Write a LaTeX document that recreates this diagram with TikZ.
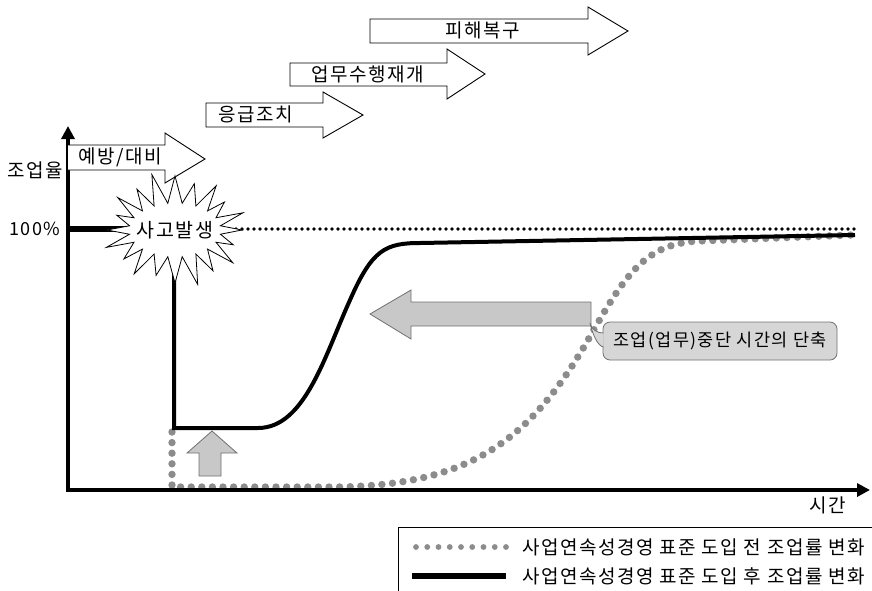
\documentclass[tikz,border=0pt]{standalone}
\usepackage{fontspec}
\setmainfont[LetterSpace=8]{Noto Sans CJK KR}
\usetikzlibrary{arrows.meta,calc}
\definecolor{dotgray}{HTML}{8C8C8C}
\definecolor{fillgray}{HTML}{C8C8C8}
\definecolor{edgegray}{HTML}{707070}
\tikzset{
  phasebox/.style={draw=black, line width=0.9pt, fill=white},
  lbl/.style={font=\fontsize{19}{22}\selectfont, inner sep=0pt},
  graydots/.style={draw=dotgray, line width=7.4pt, line cap=round, dash pattern=on 0pt off 10.6pt},
  blackdots/.style={draw=black, line width=3.8pt, line cap=round, dash pattern=on 0pt off 6pt},
  thick curve/.style={draw=black, line width=4pt},
  grayarrow/.style={draw=edgegray, line width=0.8pt, fill=fillgray},
  axisline/.style={line width=4pt, -{Triangle[length=13pt,width=13pt]}}
}
\begin{document}
\begin{tikzpicture}[x=1pt,y=-1pt]
\useasboundingbox (0,0) rectangle (872,590);
\clip (0,0) rectangle (872,590);

% dotted 100% reference line
\coordinate (dl0) at (236,229);
\coordinate (dl1) at (855,229);
\draw[blackdots] (dl0) -- (dl1);

% gray dotted curve (before)
\coordinate (g0) at (172,432);
\coordinate (g1) at (172,487);
\coordinate (g2) at (330,487);
\coordinate (g3) at (588,340);
\coordinate (g4) at (700,241);
\coordinate (g5) at (852,235);
\draw[graydots] (g0) -- (g1) -- (g2)
  .. controls (470,487) and (530,440) .. (g3)
  .. controls (625,275) and (645,243) .. (g4)
  -- (g5);

% black solid curve (after)
\coordinate (b0) at (174,240);
\coordinate (b1) at (174,428);
\coordinate (b2) at (258,428);
\coordinate (b3) at (350,300);
\coordinate (b4) at (420,243);
\coordinate (b5) at (855,235);
\draw[thick curve] (b0) -- (b1) -- (b2)
  .. controls (305,428) and (325,355) .. (b3)
  .. controls (372,250) and (385,243) .. (b4)
  -- (b5);

% 100% stub line
\coordinate (s0) at (68,229);
\coordinate (s1) at (125,229);
\draw[line width=5.5pt] (s0) -- (s1);

% axes
\coordinate (o) at (68,490);
\coordinate (ytop) at (68,126);
\coordinate (xend) at (870,490);
\draw[axisline] (68,492) -- (ytop);
\draw[axisline] (66,490) -- (xend);

% phase arrows
\draw[phasebox] (68,145) -- (165,145) -- (165,133) -- (205,159) -- (165,183) -- (165,170) -- (68,170);
\node[lbl] (p1) at (120,157) {예방/대비};
\draw[phasebox] (206,103) -- (323,103) -- (323,92) -- (363,115) -- (323,138) -- (323,127) -- (206,127) -- cycle;
\node[lbl] (p2) at (256,114) {응급조치};
\draw[phasebox] (290,63) -- (447,63) -- (447,49) -- (485,74) -- (447,99) -- (447,86) -- (290,86) -- cycle;
\node[lbl] (p3) at (368,74) {업무수행재개};
\draw[phasebox] (370,19) -- (588,19) -- (588,7) -- (628,31) -- (588,55) -- (588,43) -- (370,43) -- cycle;
\node[lbl] (p4) at (483,30) {피해복구};

% starburst
\coordinate (sc) at (175,230);
\draw[line width=0.8pt, fill=white] ($(sc)+(67,0)$)
  \foreach \a/\f in {18/0.9,36/1.05,54/0.95,72/1.08,90/1.0,108/0.9,126/1.02,144/0.93,162/1.06,180/1.0,198/0.9,216/1.04,234/0.95,252/1.1,270/1.02,288/0.92,306/1.03,324/0.9,342/1.05} {
    -- ($(sc)+({46*cos(\a-9)},{27*sin(\a-9)})$) -- ($(sc)+({\f*68*cos(\a)},{\f*53*sin(\a)})$)
  } -- ($(sc)+({46*cos(351)},{27*sin(351)})$) -- cycle;
\node[lbl, font=\fontsize{19.5}{22}\selectfont] (acc) at (sc) {사고발생};

% axis labels
\node[lbl] (ylab) at (35,170) {조업율};
\node[lbl, font=\fontsize{18}{20}\selectfont] (pct) at (35,229) {100\%};
\node[lbl] (xlab) at (828,505) {시간};

% gray up arrow
\draw[grayarrow] (199,476) -- (199,453) -- (187,453) -- (212,431) -- (237,453) -- (221,453) -- (221,476) -- cycle;

% big gray left arrow
\draw[grayarrow] (591,302) -- (411,302) -- (411,290) -- (370,314) -- (411,339) -- (411,326) -- (591,326) -- cycle;

% callout
\node[lbl, font=\fontsize{17.5}{20}\selectfont, draw=edgegray, fill=fillgray!75, line width=0.8pt, rounded corners=7pt,
      minimum width=234pt, minimum height=38pt] (call) at (720,341) {조업(업무)중단 시간의 단축};
\draw[draw=edgegray, fill=fillgray!75, line width=0.8pt]
  (603.5,333) .. controls (597,333) and (592,330) .. (590,323)
  .. controls (593,336) and (598,346) .. (603.5,347);

% legend
\draw[line width=0.8pt] (398,600) -- (398,527) -- (880,527);
\coordinate (lg0) at (416,547);
\coordinate (lg1) at (506,547);
\draw[draw=dotgray, line width=5.8pt, line cap=round, dash pattern=on 0pt off 11.25pt] (lg0) -- (lg1);
\node[lbl, anchor=west] (lt1) at (522,547) {사업연속성경영 표준 도입 전 조업률 변화};
\coordinate (lk0) at (412,576);
\coordinate (lk1) at (506,576);
\draw[line width=5.5pt] (lk0) -- (lk1);
\node[lbl, anchor=west] (lt2) at (522,576) {사업연속성경영 표준 도입 후 조업률 변화};
\end{tikzpicture}
\end{document}
